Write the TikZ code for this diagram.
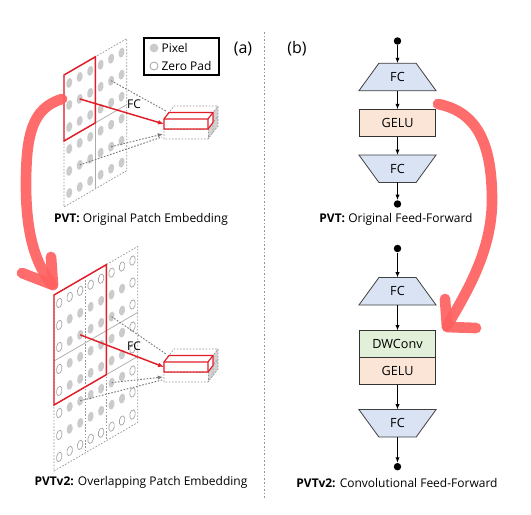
\documentclass[tikz,border=0pt]{standalone}
\usepackage{fontspec}
\setmainfont{Open Sans}
\usetikzlibrary{arrows.meta,backgrounds}
\definecolor{hred}{RGB}{255,96,96}
\definecolor{pred}{RGB}{225,30,40}
\definecolor{fcblue}{RGB}{218,227,243}
\definecolor{geluor}{RGB}{251,229,214}
\definecolor{dwgreen}{RGB}{226,240,217}
\definecolor{dotgray}{RGB}{203,203,203}
\definecolor{linegray}{RGB}{150,150,150}
\begin{document}
\begin{tikzpicture}[x=0.75pt,y=-0.75pt,
  font=\fontsize{9}{11}\selectfont,
  fcnode/.style={rectangle, minimum width=57.5pt, minimum height=20.25pt, inner sep=0pt,
    font=\fontsize{9.5}{11}\selectfont},
  fcshape/.style={draw=black!75, fill=fcblue, line width=0.6pt},
  actbox/.style={rectangle, minimum width=57.5pt, minimum height=20pt, inner sep=0pt,
    draw=black!80, line width=0.6pt, font=\fontsize{9.5}{11}\selectfont},
  flow/.style={-{Latex[length=4pt,width=3.2pt]}, line width=0.8pt},
  term/.style={circle, fill=black, inner sep=0pt, minimum size=5.6pt},
  handarrow/.style={draw=hred, line width=8pt, line cap=round, line join=round, opacity=0.92},
  pix/.style={fill=dotgray},
  zpad/.style={draw=dotgray!80!black, line width=0.5pt},
  gridout/.style={draw=linegray, dash pattern=on 1.2pt off 1.2pt, line width=0.55pt},
  gridin/.style={draw=linegray!80, line width=0.55pt},
  gridind/.style={draw=linegray, dash pattern=on 1.2pt off 1.2pt, line width=0.55pt},
  patch/.style={draw=pred, line width=1.1pt},
  proj/.style={draw=linegray!80!black, dash pattern=on 1.2pt off 1.2pt, line width=0.7pt},
  label/.style={inner sep=1pt}
]
\useasboundingbox (0,0) rectangle (531,514);

% divider
\draw[linegray, dash pattern=on 1.2pt off 1.5pt, line width=0.5pt] (264,32) -- (264,500);

% ---------- top grid (PVT) ----------
\begin{scope}[shift={(64,75)}, x={(7.85pt,4.55pt)}, y={(0pt,-16.5pt)}]
  \foreach \i in {0,...,5} \foreach \j in {0,...,5}
    \fill[pix] (\i+0.5,\j+0.5) circle [x radius=2.2pt, y radius=3.8pt, rotate=-12];
  \draw[gridout] (0,0) -- (6,0) -- (6,6) -- (0,6) -- cycle;
  \draw[gridin] (3,0) -- (3,6) (0,3) -- (6,3);
  \draw[patch] (0,0) -- (3,0) -- (3,3) -- (0,3) -- cycle;
  \coordinate (tpA) at (1.5,1.5);
  \coordinate (tpB) at (4.5,1.5);
  \coordinate (tpC) at (1.5,4.5);
  \coordinate (tpD) at (4.5,4.5);
\end{scope}

% ---------- bottom grid (PVTv2) ----------
\begin{scope}[shift={(54,295)}, x={(7.85pt,4.55pt)}, y={(0pt,-16.5pt)}]
  \foreach \i in {1,...,6} \foreach \j in {1,...,6}
    \fill[pix] (\i+0.5,\j+0.5) circle [x radius=2.2pt, y radius=3.8pt, rotate=-12];
  \foreach \i in {0,...,7} {
    \draw[zpad] (\i+0.5,0.5) circle [x radius=2pt, y radius=3.6pt, rotate=-12];
    \draw[zpad] (\i+0.5,7.5) circle [x radius=2pt, y radius=3.6pt, rotate=-12];
  }
  \foreach \j in {1,...,6} {
    \draw[zpad] (0.5,\j+0.5) circle [x radius=2pt, y radius=3.6pt, rotate=-12];
    \draw[zpad] (7.5,\j+0.5) circle [x radius=2pt, y radius=3.6pt, rotate=-12];
  }
  \draw[gridout] (0,0) -- (8,0) -- (8,8) -- (0,8) -- cycle;
  \draw[gridind] (3,0) -- (3,8) (5,0) -- (5,8);
  \draw[gridin] (0,3) -- (8,3) (0,5) -- (8,5);
  \draw[patch] (0,0) -- (5,0) -- (5,5) -- (0,5) -- cycle;
  \coordinate (bpA) at (2.5,2.5);
  \coordinate (bpB) at (5.5,2.5);
  \coordinate (bpC) at (2.5,5.5);
  \coordinate (bpD) at (5.5,5.5);
\end{scope}

% ---------- token stacks ----------
\foreach \dy/\nm in {0/t,243/b} {
\begin{scope}[shift={(0,\dy)}]
  \fill[gray!35] (208,119) -- (218,106) -- (218,126) -- (208,139) -- cycle;
  \draw[gridout] (164,119) -- (174,106) -- (218,106) -- (218,126) -- (208,139) -- (164,139) -- cycle;
  \draw[gridout] (208,119) -- (218,106) (208,129) -- (218,116) (213,112.5) -- (213,132.5);
  \draw[gridout] (208,119) -- (208,139) (164,129) -- (208,129);
  \filldraw[fill=white, patch, line width=0.9pt] (164,119) -- (169,112.5) -- (213,112.5) -- (213,122.5) -- (208,129) -- (164,129) -- cycle;
  \draw[patch, line width=0.9pt] (164,119) -- (208,119) -- (213,112.5) (208,119) -- (208,129);
  \coordinate (\nm R) at (164,124);
  \coordinate (\nm B) at (166,111);
  \coordinate (\nm D) at (163,134);
  \coordinate (\nm C) at (162,137);
\end{scope}
}

% projections top
\draw[proj] (tpB) -- (tB);
\draw[proj] (tpC) -- (tC);
\draw[proj, -{Latex[length=4pt,width=3.2pt]}] (tpD) -- (tD);
\draw[pred, line width=1.1pt, -{Latex[length=4.5pt,width=3.5pt]}] (tpA) -- (tR);
\node[label] (fct) at (134,104) {FC};
% projections bottom
\draw[proj] (bpB) -- (bB);
\draw[proj] (bpC) -- (bC);
\draw[proj, -{Latex[length=4pt,width=3.2pt]}] (bpD) -- (bD);
\draw[pred, line width=1.1pt, -{Latex[length=4.5pt,width=3.5pt]}] (bpA) -- (bR);
\node[label] (fcb) at (134,346) {FC};

% legend
\draw[line width=0.8pt] (144,38) rectangle (219,75);
\fill[pix] (154,48) circle [radius=3.3pt];
\draw[zpad, line width=0.6pt] (154,66) circle [radius=3pt];
\node[label, anchor=west] (lpix) at (160,48) {Pixel};
\node[label, anchor=west] (lzp) at (160,66) {Zero Pad};

\node[label, font=\fontsize{12}{14}\selectfont] (pa) at (243,49) {(a)};
\node[label, font=\fontsize{12}{14}\selectfont] (pb) at (297,49) {(b)};

% captions
\node[label] (cap1) at (141,219) {\textbf{PVT:} Original Patch Embedding};
\node[label] (cap2) at (141,482) {\textbf{PVTv2:} Overlapping Patch Embedding};
\node[label] (cap3) at (396,219) {\textbf{PVT:} Original Feed-Forward};
\node[label] (cap4) at (397,483) {\textbf{PVTv2:} Convolutional Feed-Forward};

% ---------- feed-forward (top) ----------
\node[term] (d1) at (397.5,41) {};
\node[fcnode] (fc1) at (397.5,77) {FC};
\node[actbox, fill=geluor] (gelu1) at (397.5,123) {GELU};
\node[fcnode] (fc2) at (397.5,168.7) {FC};
\node[term] (d2) at (397.5,204) {};
% ---------- feed-forward (bottom) ----------
\node[term] (d3) at (397.5,248.5) {};
\node[fcnode] (fc3) at (397.5,291.3) {FC};
\node[actbox, fill=dwgreen] (dw) at (397.5,344.2) {DWConv};
\node[actbox, fill=geluor] (gelu2) at (397.5,371) {GELU};
\node[fcnode] (fc4) at (397.5,423.3) {FC};
\node[term] (d4) at (397.5,466.7) {};

\begin{scope}[on background layer]
  \foreach \n in {fc1,fc3}
    \draw[fcshape] ([xshift=15pt]\n.north west) -- ([xshift=-15pt]\n.north east)
      -- (\n.south east) -- (\n.south west) -- cycle;
  \foreach \n in {fc2,fc4}
    \draw[fcshape] (\n.north west) -- (\n.north east)
      -- ([xshift=-15pt]\n.south east) -- ([xshift=15pt]\n.south west) -- cycle;
\end{scope}

\draw[flow] (d1) -- (fc1);
\draw[flow] (fc1) -- (gelu1);
\draw[flow] (gelu1) -- (fc2);
\draw[flow] (fc2) -- (d2);
\draw[flow] (d3) -- (fc3);
\draw[flow] (fc3) -- (dw);
\draw[flow] (gelu2) -- (fc4);
\draw[flow] (fc4) -- (d4);

% ---------- hand-drawn arrows ----------
\draw[handarrow] (62,99) .. controls (32,108) and (26,135) .. (26,185)
  .. controls (26,235) and (36,265) .. (52,284);
\draw[handarrow] (51,257) -- (53,285) -- (22,273);
\draw[handarrow] (438,104) .. controls (478,112) and (492,145) .. (492,200)
  .. controls (492,250) and (468,290) .. (447,326);
\draw[handarrow] (445,299) -- (447,327) -- (476,328);
\end{tikzpicture}
\end{document}
